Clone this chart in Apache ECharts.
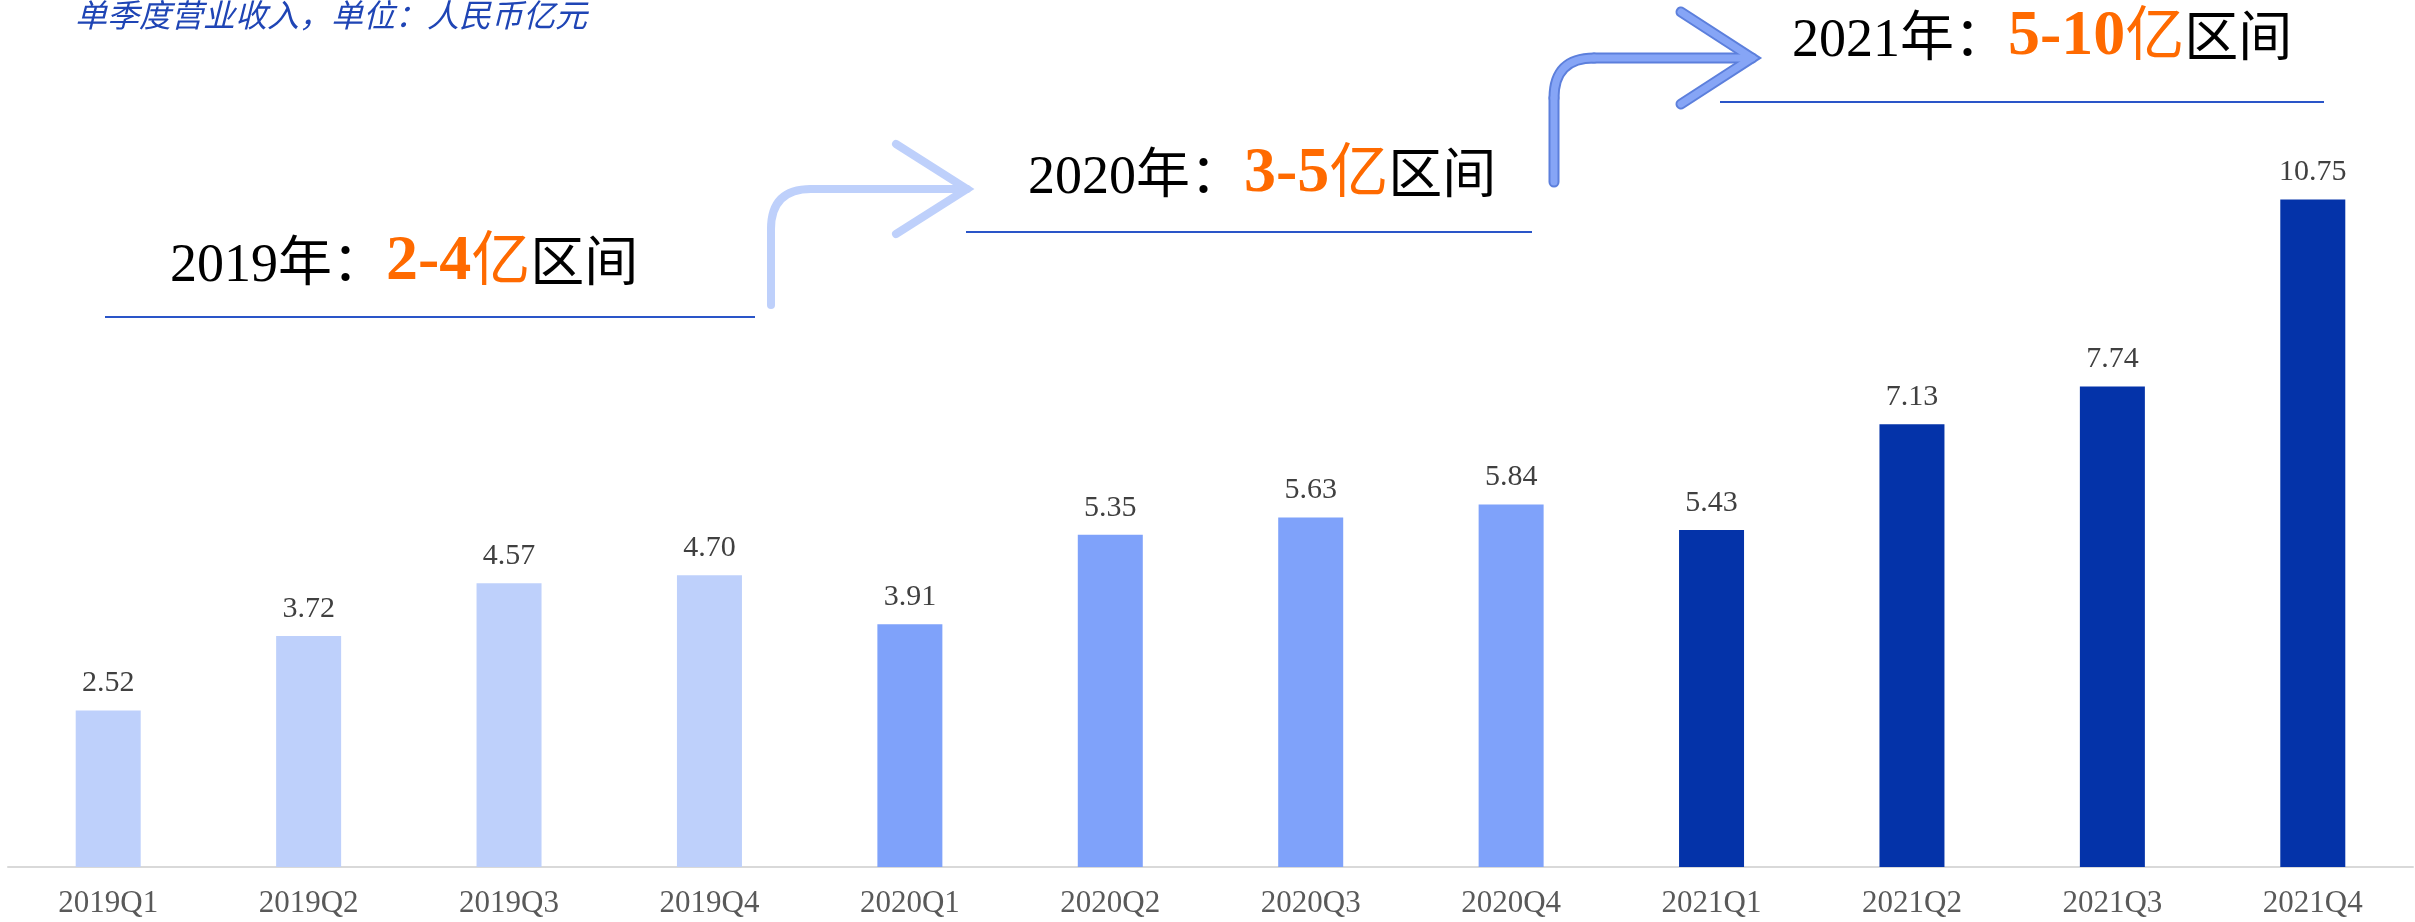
<!DOCTYPE html>
<html>
<head>
<meta charset="utf-8">
<title>单季度营业收入</title>
<script src="https://cdn.jsdelivr.net/npm/echarts@6/dist/echarts.min.js"></script>
<style>
  html, body { margin: 0; padding: 0; background: #ffffff; }
  #chart { width: 2415px; height: 922px; }
</style>
</head>
<body>
<div id="chart"></div>
<script>
// Quarterly revenue, RMB 100 million (亿元)
const quarters = ['2019Q1', '2019Q2', '2019Q3', '2019Q4',
                  '2020Q1', '2020Q2', '2020Q3', '2020Q4',
                  '2021Q1', '2021Q2', '2021Q3', '2021Q4'];
const revenue = [2.52, 3.72, 4.57, 4.70, 3.91, 5.35, 5.63, 5.84, 5.43, 7.13, 7.74, 10.75];

// Yearly guidance ranges shown above the bars
const rangeYears = ['2019', '2020', '2021'];
const rangeTexts = ['2-4', '3-5', '5-10'];

const subtitle = '单季度营业收入，单位：人民币亿元';

// One colour per year
const yearColor = { '2019': '#bed0fb', '2020': '#7fa2fa', '2021': '#0433a9' };

const SERIF = '"Liberation Serif", "Times New Roman", "Noto Sans CJK SC", serif';
const CJK = '"Liberation Serif", "Noto Sans CJK SC", serif';

const chart = echarts.init(document.getElementById('chart'));

const barData = revenue.map((v, i) => ({
  value: v,
  itemStyle: { color: yearColor[quarters[i].slice(0, 4)] }
}));

// Rich-text heading for one year's range
function rangeLabel(i, x, y) {
  return {
    type: 'text',
    x: x, y: y,
    style: {
      text: '{a|' + rangeYears[i] + '年：}{b|' + rangeTexts[i] + '}{c|亿}{a|区间}',
      verticalAlign: 'middle',
      rich: {
        a: { fontSize: 54, fontFamily: CJK, fill: '#000000', verticalAlign: 'bottom' },
        b: { fontSize: 64, fontFamily: SERIF, fontWeight: 'bold', fill: '#ff6a00', verticalAlign: 'bottom' },
        c: { fontSize: 59, fontFamily: CJK, fill: '#ff6a00', verticalAlign: 'bottom' }
      }
    },
    z: 10
  };
}

function underline(x1, x2, y) {
  return {
    type: 'line',
    shape: { x1: x1, y1: y, x2: x2, y2: y },
    style: { stroke: '#2a55c8', lineWidth: 2 },
    z: 10
  };
}

// Bent arrow: up from (x, yBottom), round corner, then right to the tip
function bentArrow(x, yBottom, yTop, xTip, armX, armDy, stroke, width, r, z) {
  const st = { stroke: stroke, lineWidth: width, lineCap: 'round', fill: null };
  return {
    type: 'group',
    z: z,
    children: [
      { type: 'line', shape: { x1: x, y1: yBottom, x2: x, y2: yTop + r }, style: st, z: z },
      { type: 'bezierCurve', shape: { x1: x, y1: yTop + r, cpx1: x, cpy1: yTop, x2: x + r, y2: yTop }, style: st, z: z },
      { type: 'line', shape: { x1: x + r, y1: yTop, x2: xTip, y2: yTop }, style: st, z: z },
      { type: 'polyline', shape: { points: [[armX, yTop - armDy], [xTip, yTop], [armX, yTop + armDy]] },
        style: Object.assign({ lineJoin: 'miter' }, st), z: z }
    ]
  };
}

const option = {
  backgroundColor: '#ffffff',
  animation: false,
  grid: { left: 8, right: 2, top: 122, bottom: 55, containLabel: false },
  xAxis: {
    type: 'category',
    data: quarters,
    axisTick: { show: false },
    axisLine: { show: true, lineStyle: { color: '#d9d9d9', width: 2 } },
    axisLabel: { color: '#595959', fontSize: 31, fontFamily: SERIF, margin: 21 }
  },
  yAxis: {
    type: 'value',
    min: 0,
    max: 12,
    show: false,
    splitLine: { show: false }
  },
  series: [{
    type: 'bar',
    data: barData,
    barWidth: 65,
    label: {
      show: true,
      position: 'top',
      distance: 12,
      color: '#404040',
      fontSize: 30,
      fontFamily: SERIF,
      formatter: p => p.value.toFixed(2)
    }
  }],
  graphic: [
    {
      type: 'text',
      x: 75, y: 15,
      style: {
        text: subtitle,
        fontSize: 32,
        fontStyle: 'italic',
        fontFamily: '"Noto Sans CJK SC", sans-serif',
        fill: '#1f45b5',
        verticalAlign: 'middle'
      },
      z: 10
    },
    rangeLabel(0, 170, 262),
    underline(105, 755, 317),
    rangeLabel(1, 1028, 174),
    underline(966, 1532, 232),
    rangeLabel(2, 1792, 37),
    underline(1720, 2324, 102),
    bentArrow(771, 305, 189, 967, 896, 45, '#bed0fb', 8, 40, 9),
    bentArrow(1554, 182, 58, 1752, 1681, 46, '#5c7fdc', 11, 40, 8),
    bentArrow(1554, 182, 58, 1752, 1681, 46, '#86a5f6', 7, 40, 9)
  ]
};

chart.setOption(option);
</script>
</body>
</html>
